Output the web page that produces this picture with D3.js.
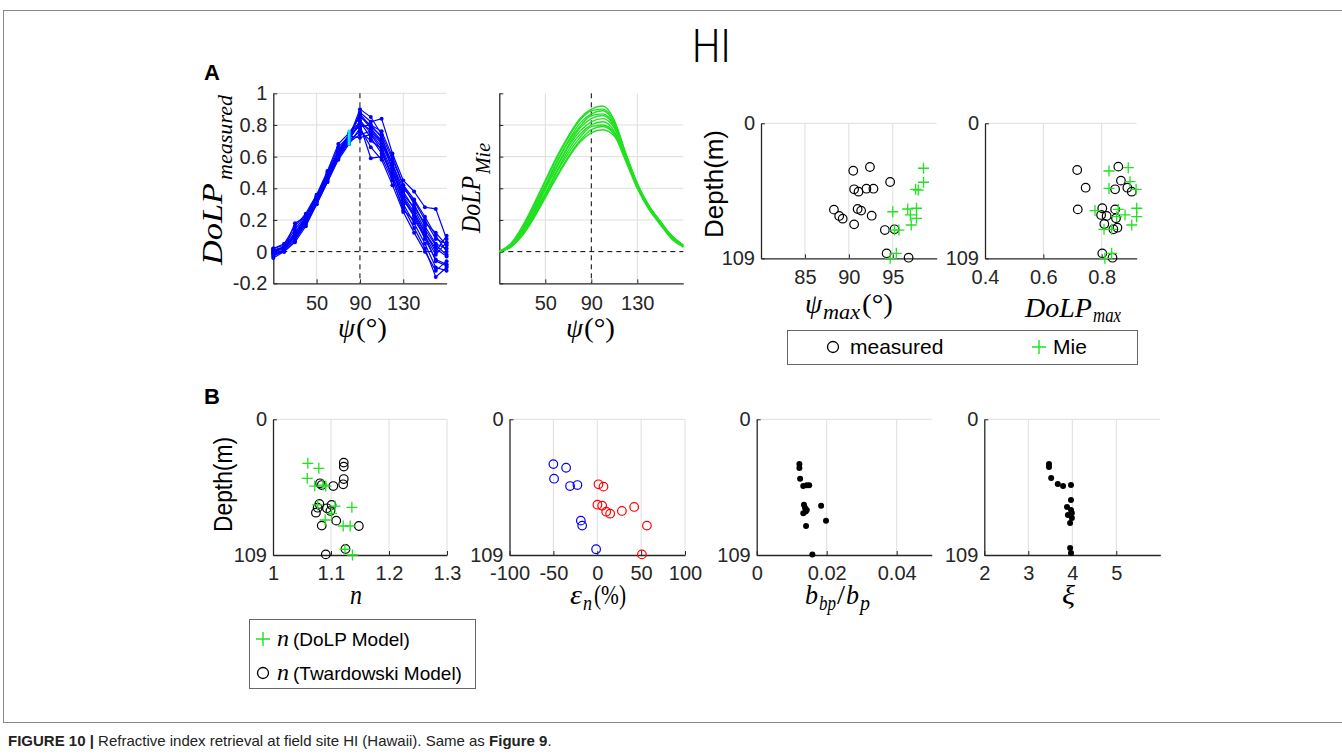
<!DOCTYPE html>
<html>
<head>
<meta charset="utf-8">
<script src="https://cdn.jsdelivr.net/npm/d3@7"></script>
<style>
  body { margin: 0; background: #fff; }
  svg { display: block; }
</style>
</head>
<body>
<script>
// ---- data ----

// scattering angle samples (deg) for panel A curves
const psi = [10, 20, 30, 40, 50, 60, 70, 80, 90, 100, 110, 120, 130, 140, 150, 160, 170];

// measured DoLP curves (one row per depth)
const dolpMeasured = [
  [0.00, 0.02, 0.10, 0.20, 0.33, 0.47, 0.62, 0.72, 0.90, 0.85, 0.74, 0.58, 0.42, 0.30, 0.16, 0.05, 0.02],
  [-0.02, 0.01, 0.08, 0.19, 0.32, 0.46, 0.61, 0.71, 0.88, 0.82, 0.84, 0.62, 0.45, 0.38, 0.28, 0.27, 0.08],
  [0.01, 0.03, 0.12, 0.22, 0.34, 0.48, 0.63, 0.73, 0.86, 0.78, 0.70, 0.52, 0.35, 0.25, 0.12, 0.02, -0.03],
  [-0.04, 0.00, 0.07, 0.18, 0.31, 0.45, 0.60, 0.70, 0.83, 0.75, 0.66, 0.50, 0.33, 0.22, 0.08, -0.05, -0.08],
  [0.02, 0.04, 0.14, 0.23, 0.35, 0.49, 0.64, 0.74, 0.82, 0.72, 0.62, 0.48, 0.30, 0.18, 0.05, -0.10, -0.12],
  [0.00, 0.02, 0.11, 0.21, 0.33, 0.47, 0.62, 0.72, 0.80, 0.59, 0.60, 0.45, 0.28, 0.15, 0.02, -0.16, -0.10],
  [-0.01, 0.03, 0.09, 0.20, 0.34, 0.48, 0.63, 0.74, 0.79, 0.80, 0.72, 0.55, 0.40, 0.32, 0.20, 0.08, 0.05],
  [0.01, 0.02, 0.10, 0.19, 0.32, 0.46, 0.60, 0.70, 0.76, 0.70, 0.65, 0.47, 0.32, 0.24, 0.12, 0.00, 0.10],
  [-0.03, 0.01, 0.08, 0.17, 0.30, 0.44, 0.59, 0.69, 0.74, 0.76, 0.68, 0.53, 0.38, 0.27, 0.14, 0.04, -0.02],
  [0.00, 0.03, 0.12, 0.22, 0.35, 0.50, 0.66, 0.73, 0.72, 0.74, 0.64, 0.46, 0.26, 0.20, 0.10, -0.02, 0.06],
  [0.02, 0.05, 0.16, 0.24, 0.36, 0.51, 0.68, 0.75, 0.85, 0.80, 0.76, 0.60, 0.42, 0.33, 0.22, 0.10, 0.00],
  [-0.02, 0.00, 0.06, 0.16, 0.30, 0.44, 0.58, 0.68, 0.78, 0.66, 0.58, 0.42, 0.25, 0.12, 0.00, -0.12, -0.06],
  [0.01, 0.02, 0.18, 0.22, 0.34, 0.47, 0.61, 0.71, 0.81, 0.77, 0.69, 0.56, 0.36, 0.28, 0.18, 0.12, 0.04],
  [-0.01, 0.01, 0.10, 0.20, 0.32, 0.47, 0.62, 0.72, 0.87, 0.79, 0.73, 0.51, 0.34, 0.23, 0.10, -0.06, -0.09]
];

// Mie-modelled DoLP curves
const dolpMie = [
  [0.00, 0.05, 0.16, 0.30, 0.45, 0.60, 0.73, 0.84, 0.90, 0.92, 0.83, 0.62, 0.43, 0.29, 0.19, 0.10, 0.04],
  [0.00, 0.05, 0.15, 0.29, 0.44, 0.59, 0.72, 0.83, 0.89, 0.90, 0.82, 0.62, 0.43, 0.29, 0.19, 0.10, 0.04],
  [0.00, 0.04, 0.14, 0.28, 0.42, 0.57, 0.70, 0.81, 0.87, 0.89, 0.81, 0.61, 0.42, 0.29, 0.19, 0.10, 0.04],
  [0.00, 0.04, 0.14, 0.27, 0.41, 0.56, 0.69, 0.79, 0.86, 0.87, 0.80, 0.61, 0.42, 0.28, 0.19, 0.09, 0.03],
  [0.00, 0.04, 0.13, 0.26, 0.40, 0.54, 0.67, 0.78, 0.84, 0.86, 0.79, 0.60, 0.42, 0.28, 0.18, 0.09, 0.04],
  [0.00, 0.04, 0.13, 0.25, 0.39, 0.53, 0.66, 0.76, 0.82, 0.84, 0.78, 0.60, 0.41, 0.28, 0.18, 0.09, 0.03],
  [0.00, 0.03, 0.12, 0.24, 0.37, 0.51, 0.64, 0.74, 0.80, 0.82, 0.76, 0.59, 0.41, 0.28, 0.18, 0.09, 0.04],
  [0.00, 0.03, 0.11, 0.23, 0.36, 0.50, 0.62, 0.72, 0.79, 0.80, 0.75, 0.58, 0.41, 0.27, 0.18, 0.09, 0.03],
  [0.00, 0.03, 0.11, 0.22, 0.35, 0.48, 0.60, 0.70, 0.77, 0.79, 0.74, 0.58, 0.40, 0.27, 0.18, 0.08, 0.04],
  [0.00, 0.03, 0.10, 0.21, 0.34, 0.47, 0.59, 0.69, 0.75, 0.77, 0.73, 0.57, 0.40, 0.27, 0.17, 0.08, 0.03]
];

// short cyan mark on the measured panel
const cyanMark = { psi: 80, lo: 0.67, hi: 0.77 };

// [value, depth (m)]
const psiMaxMeasured = [[90.5, 38.3], [92.4, 35.3], [94.7, 47.4], [90.6, 53.3], [91.1, 55.2], [92.0, 52.8],
  [92.8, 52.8], [88.3, 69.7], [88.9, 74.8], [89.3, 77.0], [91.0, 69.2], [91.4, 70.5], [92.6, 74.6],
  [90.6, 81.6], [94.1, 86.2], [95.2, 85.6], [94.3, 105.0], [96.8, 108.5]];
const psiMaxMie = [[98.5, 36.3], [98.5, 47.6], [97.6, 53.3], [97.9, 53.9], [95.0, 71.4], [96.7, 69.2],
  [97.7, 68.6], [97.0, 74.0], [97.7, 76.7], [97.1, 82.1], [95.2, 86.2], [95.7, 86.2], [95.4, 105.0], [94.7, 109.0]];

const dolpMaxMeasured = [[0.716, 37.7], [0.857, 35.0], [0.745, 52.0], [0.866, 46.3], [0.846, 53.3], [0.888, 52.0],
  [0.903, 55.2], [0.718, 69.5], [0.802, 68.6], [0.798, 74.0], [0.817, 74.8], [0.846, 69.5], [0.849, 76.7],
  [0.809, 81.3], [0.840, 85.6], [0.854, 84.3], [0.802, 105.0], [0.837, 108.5]];
const dolpMaxMie = [[0.825, 38.5], [0.891, 35.8], [0.825, 52.6], [0.897, 47.1], [0.918, 53.3], [0.777, 70.5],
  [0.857, 69.5], [0.880, 74.0], [0.920, 68.6], [0.920, 75.4], [0.903, 82.1], [0.808, 85.6], [0.834, 85.6],
  [0.834, 105.0], [0.811, 109.0], [0.851, 75.4]];

const nTwardowski = [[1.122, 34.8], [1.122, 38.0], [1.122, 48.0], [1.121, 52.2], [1.104, 53.6], [1.081, 51.4],
  [1.084, 52.8], [1.080, 68.0], [1.074, 75.0], [1.093, 71.5], [1.101, 68.8], [1.099, 73.6], [1.084, 85.4],
  [1.109, 81.4], [1.148, 85.7], [1.125, 104.2], [1.091, 108.5], [1.077, 71.0]];
const nDolp = [[1.060, 35.4], [1.079, 39.4], [1.059, 47.4], [1.072, 53.6], [1.086, 52.8], [1.091, 53.6],
  [1.077, 68.8], [1.107, 69.7], [1.136, 70.7], [1.101, 75.5], [1.090, 80.9], [1.121, 85.7], [1.133, 85.7],
  [1.124, 104.4], [1.137, 109.0]];

const epsNegative = [[-50.0, 36.0], [-35.5, 38.9], [-49.2, 47.7], [-31.0, 53.6], [-22.6, 52.8],
  [-18.7, 81.4], [-17.2, 85.4], [-1.3, 104.4]];
const epsPositive = [[1.4, 52.2], [7.1, 54.1], [0.2, 68.6], [5.6, 69.4], [10.2, 74.2], [14.7, 75.8],
  [28.1, 73.6], [42.1, 70.4], [56.6, 85.4], [50.9, 108.5]];

const bbpRatio = [[0.0122, 36.0], [0.0122, 39.1], [0.0124, 47.7], [0.0133, 53.5], [0.0143, 53.0], [0.0150, 53.0],
  [0.0135, 68.6], [0.0138, 71.0], [0.0143, 72.8], [0.0133, 75.5], [0.0184, 69.4], [0.0198, 81.4],
  [0.0141, 85.7], [0.0159, 108.5], [0.0140, 74.0]];

const xiValues = [[3.47, 35.9], [3.47, 38.3], [3.52, 47.2], [3.67, 52.0], [3.79, 53.6], [3.97, 52.8],
  [3.97, 64.8], [3.88, 70.4], [3.97, 72.9], [3.99, 75.3], [3.90, 76.9], [3.99, 79.3], [3.95, 83.3],
  [3.95, 103.4], [3.97, 107.4]];

// tick values
const psiTicks = [50, 90, 130];
const dolpTicks = [1, 0.8, 0.6, 0.4, 0.2, 0, -0.2];
const depthTicks = [0, 109];
const psiMaxTicks = [85, 90, 95];
const dolpMaxTicks = [0.4, 0.6, 0.8];
const nTicks = [1, 1.1, 1.2, 1.3];
const epsTicks = [-100, -50, 0, 50, 100];
const bbpTicks = [0, 0.02, 0.04];
const xiTicks = [2, 3, 4, 5];

// ---- drawing ----
const SANS = '"Liberation Sans", Arial, Helvetica, sans-serif';
const SERIF = '"Liberation Serif", "Times New Roman", serif';
const AXIS = '#262626';
const GRID = '#dedede';
const BLUE = '#0000ff';
const GREEN = '#22e022';
const RED = '#ff0000';

const svg = d3.select('body').append('svg')
  .attr('width', 1342).attr('height', 754);

// outer frame
svg.append('rect')
  .attr('x', 3.5).attr('y', 10.5).attr('width', 1400).attr('height', 712)
  .attr('fill', 'none').attr('stroke', '#888').attr('stroke-width', 1);

// title and panel letters
svg.append('text').attr('x', 692).attr('y', 62)
  .attr('font-family', 'Roboto, ' + SANS).attr('font-weight', 300).attr('font-size', 46).attr('fill', '#000')
  .attr('textLength', 39).attr('lengthAdjust', 'spacingAndGlyphs').text('HI');
svg.append('text').attr('x', 204).attr('y', 80)
  .attr('font-family', SANS).attr('font-weight', 'bold').attr('font-size', 22).text('A');
svg.append('text').attr('x', 204).attr('y', 404)
  .attr('font-family', SANS).attr('font-weight', 'bold').attr('font-size', 22).text('B');

// builds one axes box: grid, axes, scales
function makePanel(o) {
  const g = svg.append('g');
  const x = d3.scaleLinear().domain(o.xDomain).range([o.left, o.right]);
  const y = d3.scaleLinear().domain(o.yDomain).range(o.yFlip ? [o.top, o.bottom] : [o.bottom, o.top]);

  g.selectAll('line.gx').data(o.xGrid).join('line').attr('class', 'gx')
    .attr('x1', d => x(d)).attr('x2', d => x(d)).attr('y1', o.top).attr('y2', o.bottom)
    .attr('stroke', GRID).attr('stroke-width', 1);
  g.selectAll('line.gy').data(o.yGrid).join('line').attr('class', 'gy')
    .attr('x1', o.left).attr('x2', o.right).attr('y1', d => y(d)).attr('y2', d => y(d))
    .attr('stroke', GRID).attr('stroke-width', 1);

  if (o.dashed) {
    g.append('line').attr('x1', x(90)).attr('x2', x(90)).attr('y1', o.top).attr('y2', o.bottom)
      .attr('stroke', '#000').attr('stroke-dasharray', '5,4');
    g.append('line').attr('x1', o.left).attr('x2', o.right).attr('y1', y(0)).attr('y2', y(0))
      .attr('stroke', '#000').attr('stroke-dasharray', '5,4');
  }

  const xa = d3.axisBottom(x).tickValues(o.xTicks).tickFormat(d => String(d))
    .tickSizeInner(-4).tickSizeOuter(0).tickPadding(o.xPad);
  const ya = d3.axisLeft(y).tickValues(o.yTicks).tickFormat(o.noYLabels ? () => '' : d => String(d))
    .tickSizeInner(-4).tickSizeOuter(0).tickPadding(6);

  [g.append('g').attr('transform', `translate(0,${o.bottom})`).call(xa),
   g.append('g').attr('transform', `translate(${o.left},0)`).call(ya)].forEach(a => {
    a.attr('font-family', SANS).attr('font-size', 20).attr('color', AXIS);
    a.select('.domain').attr('stroke-width', 1.3);
  });
  return { g, x, y };
}

// text label built from italic / upright / subscript pieces
function mathLabel(px, py, rot, pieces) {
  const g = svg.append('g').attr('transform', `translate(${px},${py}) rotate(${rot})`);
  let cx = 0;
  pieces.forEach(p => {
    g.append('text').attr('x', cx).attr('y', p.dy || 0)
      .attr('font-family', p.sans ? SANS : SERIF)
      .attr('font-style', p.sans || p.up ? 'normal' : 'italic')
      .attr('font-size', p.size).attr('fill', '#000')
      .attr('textLength', p.len).attr('lengthAdjust', 'spacingAndGlyphs')
      .text(p.t);
    cx += p.len + (p.gap || 1);
  });
}

function circles(p, data, color, r = 4.3) {
  p.g.append('g').selectAll('circle').data(data).join('circle')
    .attr('cx', d => p.x(d[0])).attr('cy', d => p.y(d[1])).attr('r', r)
    .attr('fill', 'none').attr('stroke', color).attr('stroke-width', 1.2);
}
function crosses(p, data, color, h = 5.5) {
  p.g.append('g').selectAll('path').data(data).join('path')
    .attr('d', d => {
      const cx = p.x(d[0]), cy = p.y(d[1]);
      return `M${cx - h},${cy}H${cx + h}M${cx},${cy - h}V${cy + h}`;
    })
    .attr('stroke', color).attr('stroke-width', 1.3).attr('fill', 'none');
}
function dots(p, data, r = 3) {
  p.g.append('g').selectAll('circle').data(data).join('circle')
    .attr('cx', d => p.x(d[0])).attr('cy', d => p.y(d[1])).attr('r', r).attr('fill', '#000');
}

// ---- panel A ----
const a1 = makePanel({ left: 273.3, right: 446.6, top: 93.3, bottom: 283.3,
  xDomain: [10, 170], yDomain: [-0.2, 1], xTicks: psiTicks, yTicks: dolpTicks,
  xGrid: [50, 130], yGrid: [1, 0.8, 0.6, 0.4, 0.2], dashed: true, xPad: 13 });
const lineA = d3.line().x((d, i) => a1.x(psi[i])).y(d => a1.y(d));
a1.g.append('g').selectAll('path').data(dolpMeasured).join('path')
  .attr('d', lineA).attr('fill', 'none').attr('stroke', BLUE).attr('stroke-width', 1.2);
dolpMeasured.forEach(s => {
  a1.g.append('g').selectAll('circle').data(s).join('circle')
    .attr('cx', (d, i) => a1.x(psi[i])).attr('cy', d => a1.y(d)).attr('r', 2).attr('fill', BLUE);
});
a1.g.append('line')
  .attr('x1', a1.x(cyanMark.psi)).attr('x2', a1.x(cyanMark.psi))
  .attr('y1', a1.y(cyanMark.lo)).attr('y2', a1.y(cyanMark.hi))
  .attr('stroke', '#00e8ff').attr('stroke-width', 3);

const a2 = makePanel({ left: 499.3, right: 683.3, top: 93.3, bottom: 283.3,
  xDomain: [10, 170], yDomain: [-0.2, 1], xTicks: psiTicks, yTicks: dolpTicks, noYLabels: true,
  xGrid: [50, 130], yGrid: [0.8, 0.6, 0.4, 0.2], dashed: true, xPad: 13 });
const lineB = d3.line().curve(d3.curveMonotoneX).x((d, i) => a2.x(psi[i])).y(d => a2.y(d));
a2.g.append('g').selectAll('path').data(dolpMie).join('path')
  .attr('d', lineB).attr('fill', 'none').attr('stroke', GREEN).attr('stroke-width', 1.4);

const a3 = makePanel({ left: 761, right: 936.7, top: 123.3, bottom: 258.3, yFlip: true,
  xDomain: [80, 100], yDomain: [0, 109], xTicks: psiMaxTicks, yTicks: depthTicks,
  xGrid: psiMaxTicks, yGrid: [0], xPad: 12 });
circles(a3, psiMaxMeasured, '#000');
crosses(a3, psiMaxMie, GREEN);

const a4 = makePanel({ left: 985, right: 1136.7, top: 123.3, bottom: 258.3, yFlip: true,
  xDomain: [0.4, 0.92], yDomain: [0, 109], xTicks: dolpMaxTicks, yTicks: depthTicks,
  xGrid: [0.6, 0.8], yGrid: [0], xPad: 12 });
circles(a4, dolpMaxMeasured, '#000');
crosses(a4, dolpMaxMie, GREEN);

// panel A axis labels
mathLabel(222, 265, -90, [{ t: 'DoLP', size: 30, len: 82, gap: 3 }, { t: 'measured', size: 22, len: 85, dy: 10 }]);
mathLabel(480, 233, -90, [{ t: 'DoLP', size: 28, len: 57, gap: 2 }, { t: 'Mie', size: 21, len: 31, dy: 10 }]);
mathLabel(338, 337, 0, [{ t: 'ψ', size: 28, len: 17 }, { t: '(°)', size: 28, len: 31, up: true }]);
mathLabel(566, 337, 0, [{ t: 'ψ', size: 28, len: 17 }, { t: '(°)', size: 28, len: 31, up: true }]);
mathLabel(805, 313, 0, [{ t: 'ψ', size: 28, len: 17 }, { t: 'max', size: 21, len: 37, dy: 6, gap: 2 },
  { t: '(°)', size: 28, len: 31, up: true }]);
mathLabel(1025, 317, 0, [{ t: 'DoLP', size: 28, len: 67 }, { t: 'max', size: 21, len: 28, dy: 5 }]);
mathLabel(723, 238, -90, [{ t: 'Depth(m)', size: 26, len: 108, sans: true }]);

// panel A legend
const legA = svg.append('g');
legA.append('rect').attr('x', 787.5).attr('y', 330.5).attr('width', 350).attr('height', 34)
  .attr('fill', '#fff').attr('stroke', '#666').attr('stroke-width', 1);
legA.append('circle').attr('cx', 833).attr('cy', 347).attr('r', 5.5)
  .attr('fill', 'none').attr('stroke', '#000').attr('stroke-width', 1.3);
legA.append('text').attr('x', 850).attr('y', 354).attr('font-family', SANS).attr('font-size', 21).text('measured');
legA.append('path').attr('d', 'M1032,347H1046M1039,340V354').attr('stroke', GREEN).attr('stroke-width', 1.4);
legA.append('text').attr('x', 1053).attr('y', 354).attr('font-family', SANS).attr('font-size', 21).text('Mie');

// ---- panel B ----
const b1 = makePanel({ left: 273, right: 447, top: 419.3, bottom: 555, yFlip: true,
  xDomain: [1, 1.3], yDomain: [0, 109], xTicks: nTicks, yTicks: depthTicks,
  xGrid: [1.1, 1.2, 1.3], yGrid: [0], xPad: 11 });
circles(b1, nTwardowski, '#000');
crosses(b1, nDolp, GREEN);

const b2 = makePanel({ left: 509.5, right: 685, top: 419.3, bottom: 555, yFlip: true,
  xDomain: [-100, 100], yDomain: [0, 109], xTicks: epsTicks, yTicks: depthTicks,
  xGrid: [-50, 0, 50, 100], yGrid: [0], xPad: 11 });
circles(b2, epsNegative, BLUE);
circles(b2, epsPositive, RED);

const b3 = makePanel({ left: 756.7, right: 931.7, top: 419.3, bottom: 555, yFlip: true,
  xDomain: [0, 0.05], yDomain: [0, 109], xTicks: bbpTicks, yTicks: depthTicks,
  xGrid: [0.02, 0.04], yGrid: [0], xPad: 11 });
dots(b3, bbpRatio);

const b4 = makePanel({ left: 984.3, right: 1160.3, top: 419.3, bottom: 555, yFlip: true,
  xDomain: [2, 6], yDomain: [0, 109], xTicks: xiTicks, yTicks: depthTicks,
  xGrid: [3, 4, 5], yGrid: [0], xPad: 11 });
dots(b4, xiValues);

// panel B axis labels
mathLabel(232, 532, -90, [{ t: 'Depth(m)', size: 26, len: 95, sans: true }]);
mathLabel(350, 604, 0, [{ t: 'n', size: 28, len: 12 }]);
mathLabel(570, 604, 0, [{ t: 'ε', size: 28, len: 12 }, { t: 'n', size: 20, len: 9, dy: 6, gap: 2 },
  { t: '(%)', size: 28, len: 32, up: true }]);
mathLabel(805, 604, 0, [{ t: 'b', size: 28, len: 13 }, { t: 'bp', size: 20, len: 17, dy: 6 },
  { t: '/', size: 28, len: 8, up: true }, { t: 'b', size: 28, len: 13 }, { t: 'p', size: 20, len: 10, dy: 6 }]);
mathLabel(1062, 604, 0, [{ t: 'ξ', size: 28, len: 13 }]);

// panel B legend
const legB = svg.append('g');
legB.append('rect').attr('x', 249.5).attr('y', 619.5).attr('width', 226).attr('height', 69)
  .attr('fill', '#fff').attr('stroke', '#666').attr('stroke-width', 1);
legB.append('path').attr('d', 'M256,639H270M263,632V646').attr('stroke', GREEN).attr('stroke-width', 1.4);
legB.append('circle').attr('cx', 263).attr('cy', 673).attr('r', 5.5)
  .attr('fill', 'none').attr('stroke', '#000').attr('stroke-width', 1.3);
[[646, '(DoLP Model)'], [680, '(Twardowski Model)']].forEach(([yy, t]) => {
  legB.append('text').attr('x', 277).attr('y', yy).attr('font-family', SERIF).attr('font-style', 'italic')
    .attr('font-size', 24).text('n');
  legB.append('text').attr('x', 293).attr('y', yy).attr('font-family', SANS).attr('font-size', 19).text(t);
});

// caption
const cap = svg.append('text').attr('x', 8).attr('y', 746)
  .attr('font-family', SANS).attr('font-size', 15).attr('fill', '#222');
cap.append('tspan').attr('font-weight', 'bold').text('FIGURE 10 | ');
cap.append('tspan').text('Refractive index retrieval at field site HI (Hawaii). Same as ');
cap.append('tspan').attr('font-weight', 'bold').text('Figure 9');
cap.append('tspan').text('.');
</script>
</body>
</html>
